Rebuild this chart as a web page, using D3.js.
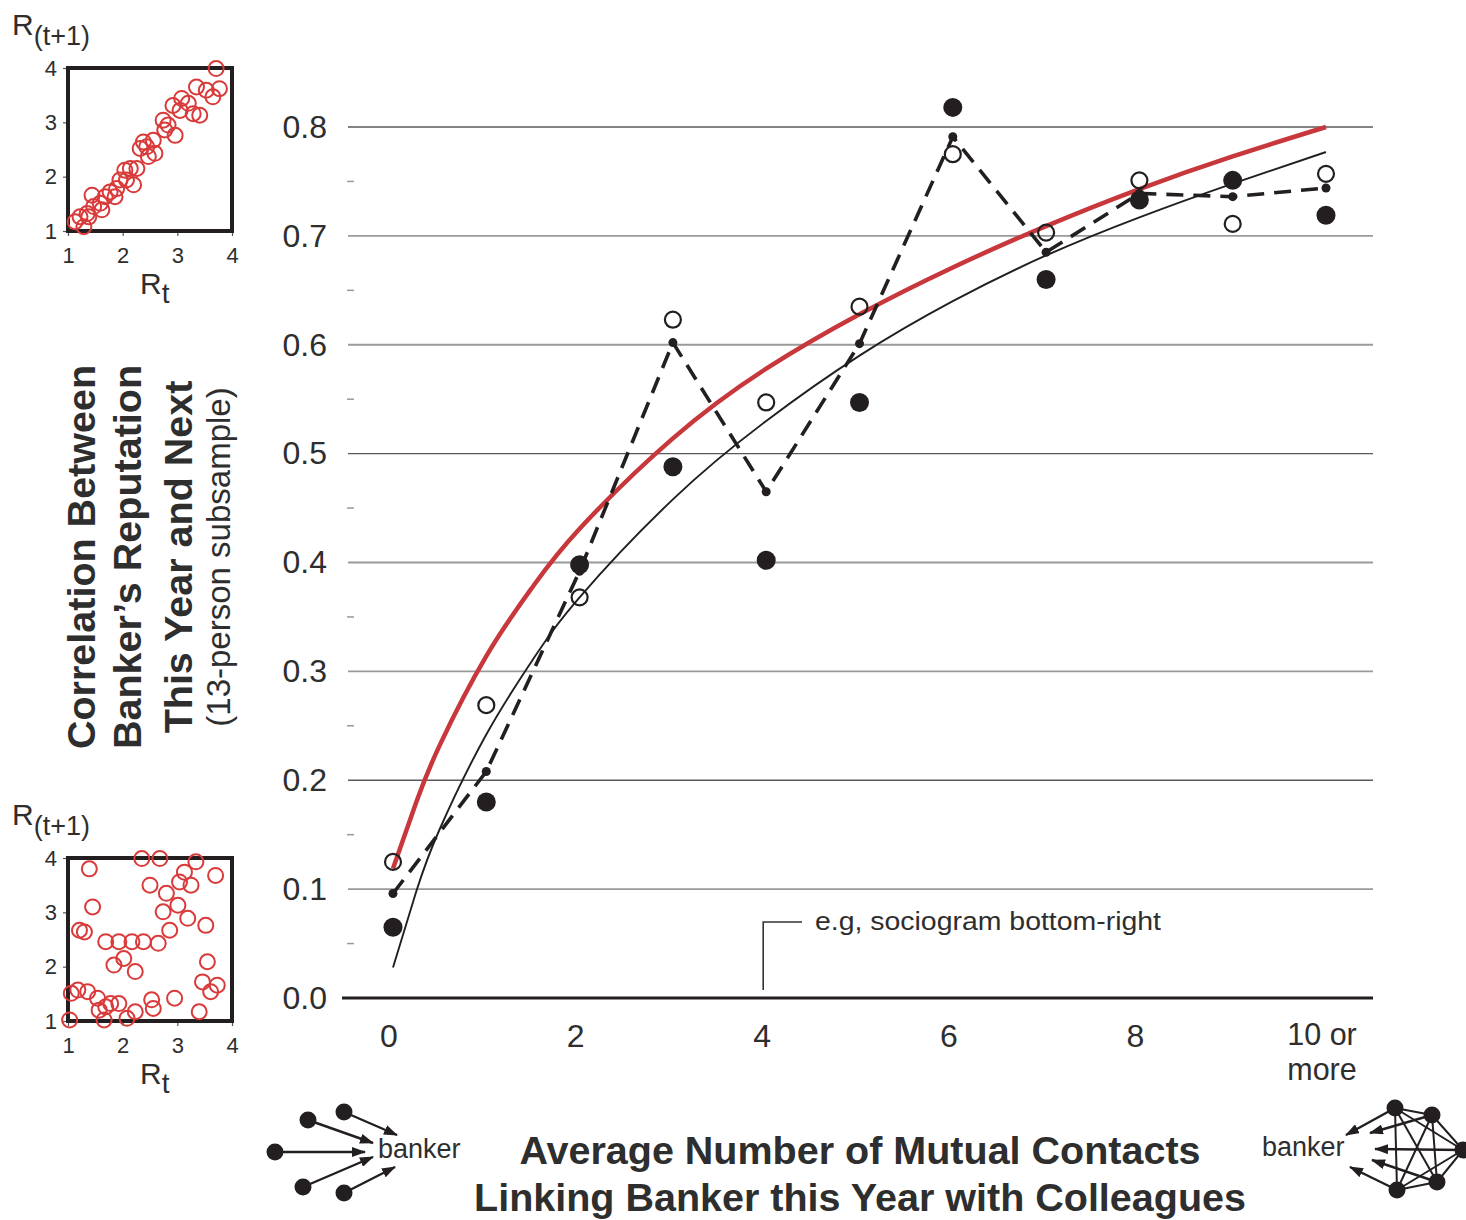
<!DOCTYPE html>
<html>
<head>
<meta charset="utf-8">
<script src="https://cdn.jsdelivr.net/npm/d3@7"></script>
<style>
  body { margin: 0; background: #fff; }
  svg { display: block; }
  text { font-family: "Liberation Sans", Arial, sans-serif; fill: #2e2e2e; }
</style>
</head>
<body>
<svg id="chart" width="1466" height="1220"></svg>
<script>
// Main chart data: mutual contacts vs. reputation correlation
const contacts = [0, 1, 2, 3, 4, 5, 6, 7, 8, 9, 10];
const openCorr = [0.125, 0.269, 0.368, 0.623, 0.547, 0.635, 0.775, 0.703, 0.751, 0.711, 0.757];
const filledCorr = [0.065, 0.180, 0.398, 0.488, 0.402, 0.547, 0.818, 0.660, 0.733, 0.751, 0.719];
const dashedCorr = [0.096, 0.208, 0.392, 0.602, 0.465, 0.601, 0.791, 0.685, 0.739, 0.736, 0.744];

// Fitted curves
const curveX = [0, 0.25, 0.5, 1, 1.5, 2, 3, 4, 5, 6, 7, 8, 9, 10];
const redFit = [0.119, 0.180, 0.232, 0.314, 0.378, 0.431, 0.514, 0.578, 0.628, 0.671, 0.709, 0.743, 0.773, 0.800];
const blackFit = [0.028, 0.098, 0.155, 0.242, 0.311, 0.368, 0.458, 0.530, 0.590, 0.640, 0.682, 0.717, 0.748, 0.777];

const yTicks = [0, 0.1, 0.2, 0.3, 0.4, 0.5, 0.6, 0.7, 0.8];
const yMinorTicks = [0.05, 0.15, 0.25, 0.35, 0.45, 0.55, 0.65, 0.75];
const xTicks = [0, 2, 4, 6, 8, 10];
const xTickLabels = ["0", "2", "4", "6", "8", "10 or|more"];

// Inset scatter plots (reputation this year vs next)
const insetTicks = [1, 2, 3, 4];
const stableRt = [3.71, 3.77, 3.65, 3.53, 3.35, 3.41, 3.20, 3.08, 3.05, 2.92, 2.96, 2.74, 2.83, 2.77, 2.56, 2.38, 2.59, 2.47, 2.32, 2.26,
  2.14, 2.07, 1.95, 2.20, 1.89, 1.77, 1.68, 1.86, 1.59, 1.44, 1.47, 1.35, 1.22, 1.29, 1.13, 1.62, 1.38, 3.29, 2.44, 2.04];
const stableRt1 = [3.99, 3.62, 3.47, 3.59, 3.65, 3.13, 3.35, 3.44, 3.22, 3.31, 2.76, 3.04, 2.95, 2.86, 2.67, 2.64, 2.43, 2.37, 2.52, 2.15,
  2.15, 1.94, 1.94, 1.85, 1.78, 1.72, 1.63, 1.63, 1.51, 1.66, 1.45, 1.32, 1.26, 1.08, 1.17, 1.39, 1.26, 3.16, 2.55, 2.12];
const randomRt = [1.39, 1.45, 1.21, 1.30, 2.35, 2.68, 3.34, 3.13, 2.50, 3.04, 3.25, 3.70, 2.80, 3.01, 2.74, 3.19, 2.86, 3.52, 1.69, 1.93,
  2.17, 2.38, 2.65, 1.84, 2.02, 2.23, 3.55, 3.46, 3.61, 3.73, 1.06, 1.18, 1.36, 1.54, 1.57, 1.66, 1.78, 1.93, 2.08, 2.23,
  2.53, 2.56, 2.95, 3.40, 1.03, 1.69];
const randomRt1 = [3.80, 3.10, 2.67, 2.64, 3.99, 3.99, 3.93, 3.74, 3.50, 3.56, 3.50, 3.68, 3.35, 3.13, 3.01, 2.89, 2.67, 2.76, 2.46, 2.46,
  2.46, 2.46, 2.43, 2.03, 2.15, 1.91, 2.09, 1.72, 1.54, 1.66, 1.51, 1.57, 1.54, 1.42, 1.20, 1.02, 1.32, 1.32, 1.05, 1.17,
  1.39, 1.23, 1.42, 1.17, 1.02, 1.26];

const ink = '#231f20';
const red = '#c8373b';

const svg = d3.select('#chart');

const defs = svg.append('defs');
defs.append('marker')
  .attr('id', 'arrow')
  .attr('markerUnits', 'userSpaceOnUse')
  .attr('viewBox', '0 0 14 10')
  .attr('refX', 13).attr('refY', 5)
  .attr('markerWidth', 14).attr('markerHeight', 10)
  .attr('orient', 'auto')
  .append('path')
  .attr('d', 'M0,0 L14,5 L0,10 Z')
  .attr('fill', ink);

// ---- main plot ----
const x = d3.scaleLinear().domain([0, 10]).range([393, 1326]);
const y = d3.scaleLinear().domain([0, 0.8]).range([998, 127]);
const gridLeft = 348, gridRight = 1373;

const plot = svg.append('g');

// every third gridline prints darker in the original
plot.selectAll('.grid')
  .data(yTicks.filter(d => d > 0))
  .enter().append('line')
  .attr('x1', gridLeft).attr('x2', gridRight)
  .attr('y1', d => y(d)).attr('y2', d => y(d))
  .attr('stroke', (d, i) => i % 3 === 1 ? '#5a5a5a' : '#9a9a9a')
  .attr('stroke-width', (d, i) => i % 3 === 1 ? 1.3 : 1.8);

plot.selectAll('.minor')
  .data(yMinorTicks)
  .enter().append('line')
  .attr('x1', gridLeft - 1).attr('x2', gridLeft + 6)
  .attr('y1', d => y(d)).attr('y2', d => y(d))
  .attr('stroke', '#9a9a9a')
  .attr('stroke-width', 1.5);

plot.append('line')
  .attr('x1', 342).attr('x2', gridRight)
  .attr('y1', y(0)).attr('y2', y(0))
  .attr('stroke', ink)
  .attr('stroke-width', 3);

const yAxis = d3.axisLeft(y)
  .tickValues(yTicks)
  .tickFormat(d3.format('.1f'))
  .tickSize(0)
  .tickPadding(21);

plot.append('g')
  .attr('transform', `translate(${gridLeft},0)`)
  .call(yAxis)
  .call(g => g.select('.domain').remove())
  .call(g => g.selectAll('text')
    .attr('font-family', '"Liberation Sans", Arial, sans-serif')
    .attr('font-size', 32)
    .attr('fill', '#333'));

xTicks.forEach((d, i) => {
  const lines = xTickLabels[i].split('|');
  lines.forEach((l, j) => {
    plot.append('text')
      .attr('x', x(d) - 4)
      .attr('y', lines.length > 1 ? 1045 + j * 35 : 1047)
      .attr('text-anchor', 'middle')
      .attr('font-size', lines.length > 1 ? 30.5 : 32)
      .attr('fill', '#333')
      .text(l);
  });
});

// annotation
plot.append('path')
  .attr('d', `M${x(4) - 3},990 V922 H802`)
  .attr('fill', 'none')
  .attr('stroke', '#333')
  .attr('stroke-width', 1.6);

plot.append('text')
  .attr('x', 815).attr('y', 930)
  .attr('font-family', 'Roboto, sans-serif')
  .attr('font-size', 26)
  .attr('textLength', 346)
  .attr('lengthAdjust', 'spacingAndGlyphs')
  .attr('fill', '#333')
  .text('e.g, sociogram bottom-right');

// fitted curves
const fitLine = vals => d3.line()
  .x((d, i) => x(curveX[i]))
  .y((d, i) => y(vals[i]))
  .curve(d3.curveNatural)(vals);

plot.append('path')
  .attr('d', fitLine(blackFit))
  .attr('fill', 'none')
  .attr('stroke', ink)
  .attr('stroke-width', 1.9);

plot.append('path')
  .attr('d', fitLine(redFit))
  .attr('fill', 'none')
  .attr('stroke', red)
  .attr('stroke-width', 4.5);

// dashed average line
const dashLine = d3.line()
  .x((d, i) => x(contacts[i]))
  .y(d => y(d));

plot.append('path')
  .attr('d', dashLine(dashedCorr))
  .attr('fill', 'none')
  .attr('stroke', ink)
  .attr('stroke-width', 3.6)
  .attr('stroke-dasharray', '17,10');

plot.selectAll('.vdot')
  .data(dashedCorr)
  .enter().append('circle')
  .attr('cx', (d, i) => x(contacts[i]))
  .attr('cy', d => y(d))
  .attr('r', 4.5)
  .attr('fill', ink);

plot.selectAll('.filled')
  .data(filledCorr)
  .enter().append('circle')
  .attr('cx', (d, i) => x(contacts[i]))
  .attr('cy', d => y(d))
  .attr('r', 9.5)
  .attr('fill', ink);

plot.selectAll('.open')
  .data(openCorr)
  .enter().append('circle')
  .attr('cx', (d, i) => x(contacts[i]))
  .attr('cy', d => y(d))
  .attr('r', 8)
  .attr('fill', 'none')
  .attr('stroke', ink)
  .attr('stroke-width', 2.2);

// ---- axis titles ----
const yTitle = svg.append('g').attr('transform', 'translate(0,557)');
[
  { text: 'Correlation Between', x: 95, bold: true },
  { text: 'Banker\u2019s Reputation', x: 141, bold: true },
  { text: 'This Year and Next', x: 192, bold: true },
  { text: '(13-person subsample)', x: 230, bold: false }
].forEach(l => {
  yTitle.append('text')
    .attr('transform', `translate(${l.x},0) rotate(-90)`)
    .attr('text-anchor', 'middle')
    .attr('font-size', l.bold ? 39.5 : 33)
    .attr('font-weight', l.bold ? 'bold' : 'normal')
    .attr('fill', l.bold ? '#2b2b2b' : '#333')
    .text(l.text);
});

svg.append('text')
  .attr('x', 860).attr('y', 1164)
  .attr('text-anchor', 'middle')
  .attr('font-size', 39.5)
  .attr('font-weight', 'bold')
  .attr('fill', '#2b2b2b')
  .text('Average Number of Mutual Contacts');

svg.append('text')
  .attr('x', 860).attr('y', 1211)
  .attr('text-anchor', 'middle')
  .attr('font-size', 39.5)
  .attr('font-weight', 'bold')
  .attr('fill', '#2b2b2b')
  .text('Linking Banker this Year with Colleagues');

// ---- inset scatter plots ----
const drawInset = (top, rt, rt1) => {
  const sx = d3.scaleLinear().domain([1, 4]).range([68, 232]);
  const sy = d3.scaleLinear().domain([1, 4]).range([top + 163, top]);
  const g = svg.append('g');

  g.append('g')
    .attr('transform', 'translate(68,0)')
    .call(d3.axisLeft(sy).tickValues(insetTicks).tickFormat(d3.format('d')).tickSize(5).tickPadding(6))
    .call(a => a.select('.domain').remove());

  g.append('g')
    .attr('transform', `translate(0,${top + 163})`)
    .call(d3.axisBottom(sx).tickValues(insetTicks).tickFormat(d3.format('d')).tickSize(5).tickPadding(11))
    .call(a => a.select('.domain').remove());

  g.selectAll('.tick line').attr('stroke', '#555').attr('stroke-width', 1.2);
  g.selectAll('.tick text')
    .attr('font-family', '"Liberation Sans", Arial, sans-serif')
    .attr('font-size', 22)
    .attr('fill', '#333');

  g.append('rect')
    .attr('x', sx(1)).attr('y', sy(4))
    .attr('width', sx(4) - sx(1)).attr('height', sy(1) - sy(4))
    .attr('fill', 'none')
    .attr('stroke', ink)
    .attr('stroke-width', 4);

  g.selectAll('.pt')
    .data(rt)
    .enter().append('circle')
    .attr('cx', d => sx(d))
    .attr('cy', (d, i) => sy(rt1[i]))
    .attr('r', 7.5)
    .attr('fill', 'none')
    .attr('stroke', '#d93a3a')
    .attr('stroke-width', 2);

  const ylab = g.append('text').attr('x', 12).attr('y', top - 33).attr('font-size', 30).attr('fill', '#333');
  ylab.append('tspan').text('R');
  ylab.append('tspan').attr('dy', 10).attr('font-size', 27).text('(t+1)');

  const xlab = g.append('text').attr('x', 140).attr('y', top + 226).attr('font-size', 30).attr('fill', '#333');
  xlab.append('tspan').text('R');
  xlab.append('tspan').attr('dy', 9).attr('font-size', 28).text('t');
};

drawInset(68, stableRt, stableRt1);
drawInset(858, randomRt, randomRt1);

// ---- sociogram icons ----
const left = svg.append('g');
const leftNodes = [
  { cx: 308, cy: 1120, tx: 373, ty: 1143 },
  { cx: 344, cy: 1112, tx: 397, ty: 1135 },
  { cx: 275, cy: 1152, tx: 365, ty: 1152 },
  { cx: 303, cy: 1187, tx: 373, ty: 1157 },
  { cx: 344, cy: 1193, tx: 395, ty: 1167 }
];
left.selectAll('line')
  .data(leftNodes)
  .enter().append('line')
  .attr('x1', d => d.cx).attr('y1', d => d.cy)
  .attr('x2', d => d.tx).attr('y2', d => d.ty)
  .attr('stroke', ink).attr('stroke-width', 2.4)
  .attr('marker-end', 'url(#arrow)');
left.selectAll('circle')
  .data(leftNodes)
  .enter().append('circle')
  .attr('cx', d => d.cx).attr('cy', d => d.cy)
  .attr('r', 8.5).attr('fill', ink);
left.append('text')
  .attr('x', 378).attr('y', 1158)
  .attr('font-size', 27).attr('fill', '#333')
  .text('banker');

const right = svg.append('g');
const rightNodes = [
  { cx: 1395, cy: 1108, tx: 1346, ty: 1135 },
  { cx: 1432, cy: 1115, tx: 1370, ty: 1133 },
  { cx: 1463, cy: 1150, tx: 1375, ty: 1149 },
  { cx: 1437, cy: 1182, tx: 1372, ty: 1160 },
  { cx: 1397, cy: 1190, tx: 1350, ty: 1167 }
];
const edges = [];
rightNodes.forEach((a, i) => rightNodes.slice(i + 1).forEach(b => edges.push([a, b])));
right.selectAll('.edge')
  .data(edges)
  .enter().append('line')
  .attr('x1', d => d[0].cx).attr('y1', d => d[0].cy)
  .attr('x2', d => d[1].cx).attr('y2', d => d[1].cy)
  .attr('stroke', ink).attr('stroke-width', 2);
right.selectAll('.arr')
  .data(rightNodes)
  .enter().append('line')
  .attr('x1', d => d.cx).attr('y1', d => d.cy)
  .attr('x2', d => d.tx).attr('y2', d => d.ty)
  .attr('stroke', ink).attr('stroke-width', 2.4)
  .attr('marker-end', 'url(#arrow)');
right.selectAll('circle')
  .data(rightNodes)
  .enter().append('circle')
  .attr('cx', d => d.cx).attr('cy', d => d.cy)
  .attr('r', 8.5).attr('fill', ink);
right.append('text')
  .attr('x', 1262).attr('y', 1156)
  .attr('font-size', 27).attr('fill', '#333')
  .text('banker');
</script>
</body>
</html>
